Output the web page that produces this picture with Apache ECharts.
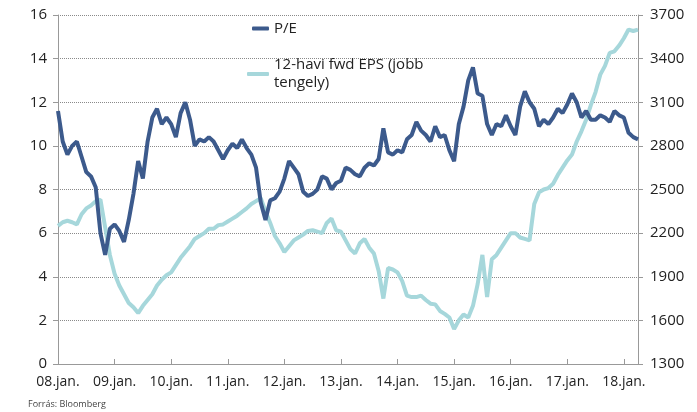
<!DOCTYPE html>
<html>
<head>
<meta charset="utf-8">
<script src="https://cdn.jsdelivr.net/npm/echarts@6/dist/echarts.min.js"></script>
<style>
    html, body { margin: 0; padding: 0; background: #fff; }
    #chart { width: 697px; height: 412px; }
</style>
</head>
<body>
<div id="chart"></div>
<script>
// years and Hungarian month abbreviations -> monthly categories, Jan 2008 .. Apr 2018
const years = ['08', '09', '10', '11', '12', '13', '14', '15', '16', '17', '18'];
const months = ['jan.', 'febr.', 'márc.', 'ápr.', 'máj.', 'jún.', 'júl.', 'aug.', 'szept.', 'okt.', 'nov.', 'dec.'];
const lastYearMonths = 4;

// P/E (left axis), monthly
const pe = [
    11.6, 10.2, 9.6, 10.0, 10.2, 9.5, 8.8, 8.6, 8.1, 6.0, 5.0, 6.2,
    6.4, 6.1, 5.6, 6.6, 7.8, 9.3, 8.5, 10.2, 11.3, 11.7, 11.0, 11.3,
    11.0, 10.4, 11.5, 12.0, 11.2, 10.0, 10.3, 10.2, 10.4, 10.2, 9.8, 9.4,
    9.8, 10.1, 9.9, 10.3, 9.9, 9.6, 9.0, 7.4, 6.6, 7.5, 7.6, 7.9,
    8.5, 9.3, 9.0, 8.7, 7.9, 7.7, 7.8, 8.0, 8.6, 8.5, 8.0, 8.3,
    8.4, 9.0, 8.9, 8.7, 8.6, 9.0, 9.2, 9.1, 9.4, 10.8, 9.7, 9.6,
    9.8, 9.7, 10.3, 10.5, 11.1, 10.7, 10.5, 10.2, 10.9, 10.4, 10.5, 9.8,
    9.3, 11.0, 11.8, 13.0, 13.6, 12.4, 12.3, 11.0, 10.5, 11.0, 10.9, 11.4,
    10.9, 10.5, 11.8, 12.5, 12.0, 11.7, 10.9, 11.2, 11.0, 11.3, 11.7, 11.5,
    11.9, 12.4, 12.0, 11.3, 11.6, 11.2, 11.2, 11.4, 11.3, 11.1, 11.6, 11.4,
    11.3, 10.6, 10.4, 10.3
];

// 12-month forward EPS (right axis), monthly
const eps = [
    2250, 2275, 2285, 2275, 2260, 2330, 2370, 2390, 2420, 2430, 2240, 2050,
    1920, 1840, 1780, 1720, 1690, 1650, 1700, 1740, 1780, 1840, 1880, 1910,
    1930, 1980, 2030, 2070, 2110, 2160, 2180, 2200, 2230, 2230, 2255, 2260,
    2280, 2300, 2320, 2345, 2370, 2400, 2420, 2440, 2350, 2270, 2180, 2130,
    2070, 2110, 2150, 2170, 2190, 2215, 2220, 2210, 2200, 2270, 2300, 2220,
    2210, 2150, 2090, 2060, 2130, 2160, 2100, 2060, 1940, 1750, 1960, 1950,
    1930, 1870, 1770, 1760, 1760, 1770, 1740, 1715, 1710, 1665, 1645, 1620,
    1540, 1600, 1640, 1620, 1700, 1850, 2050, 1760, 2020, 2050, 2100, 2150,
    2200, 2200, 2170, 2160, 2150, 2400, 2480, 2500, 2510, 2540, 2600, 2650,
    2700, 2740, 2830, 2900, 2980, 3080, 3170, 3290, 3350, 3440, 3450, 3490,
    3540, 3600, 3590, 3600
];

const peName = 'P/E';
const epsName = '12-havi fwd EPS (jobb tengely)';

const categories = [];
years.forEach((y, i) => {
    const n = i === years.length - 1 ? lastYearMonths : 12;
    for (let m = 0; m < n; m++) {
        categories.push(y + '.' + months[m]);
    }
});

const font = "'Open Sans', sans-serif";
const isJan = idx => idx % 12 === 0;

const option = {
    animation: false,
    backgroundColor: '#fff',
    title: {
        text: 'Forrás: Bloomberg',
        left: 28,
        top: 400,
        padding: 0,
        textStyle: {
            fontFamily: font,
            fontSize: 9,
            fontWeight: 'normal',
            color: '#444'
        }
    },
    legend: [
        {
            data: [peName],
            left: 252,
            top: 21,
            padding: 0,
            itemWidth: 17,
            itemHeight: 4,
            icon: 'roundRect',
            textStyle: { fontFamily: font, fontSize: 15, color: '#222' }
        },
        {
            data: [epsName],
            left: 247,
            top: 47,
            padding: 0,
            itemWidth: 22,
            itemHeight: 4,
            icon: 'roundRect',
            formatter: () => '12-havi fwd EPS (jobb\ntengely)',
            textStyle: {
                fontFamily: font,
                fontSize: 15,
                lineHeight: 18,
                padding: [18, 0, 0, 0],
                color: '#222'
            }
        }
    ],
    grid: {
        left: 58,
        right: 59,
        top: 15,
        bottom: 48
    },
    xAxis: {
        type: 'category',
        data: categories,
        boundaryGap: false,
        axisLine: { lineStyle: { color: '#999' } },
        axisTick: {
            interval: isJan,
            inside: true,
            length: 5,
            lineStyle: { color: '#999' }
        },
        axisLabel: {
            interval: isJan,
            formatter: v => v.slice(0, 3) + 'jan.',
            fontFamily: font,
            fontSize: 14,
            color: '#222',
            margin: 11
        },
        splitLine: { show: false }
    },
    yAxis: [
        {
            type: 'value',
            position: 'left',
            min: 0,
            max: 16,
            interval: 2,
            axisLine: { show: true, lineStyle: { color: '#999' } },
            axisTick: { show: true, length: 5, lineStyle: { color: '#999' } },
            axisLabel: { fontFamily: font, fontSize: 15, color: '#222', margin: 11 },
            splitLine: { show: true, lineStyle: { color: '#8a8a8a', type: 'dotted', width: 1 } }
        },
        {
            type: 'value',
            position: 'right',
            min: 1300,
            max: 3700,
            alignTicks: true,
            axisLine: { show: true, lineStyle: { color: '#999' } },
            axisTick: { show: true, length: 5, lineStyle: { color: '#999' } },
            axisLabel: {
                formatter: v => String(Math.round(v)),
                fontFamily: font,
                fontSize: 15,
                color: '#222',
                margin: 12
            },
            splitLine: { show: false }
        }
    ],
    series: [
        {
            name: epsName,
            type: 'line',
            yAxisIndex: 1,
            showSymbol: false,
            symbol: 'none',
            itemStyle: { color: '#a6d7db' },
            lineStyle: { color: '#a6d7db', width: 4 },
            data: eps
        },
        {
            name: peName,
            type: 'line',
            yAxisIndex: 0,
            showSymbol: false,
            symbol: 'none',
            itemStyle: { color: '#3c5a8c' },
            lineStyle: { color: '#3c5a8c', width: 4 },
            data: pe
        }
    ]
};

const chart = echarts.init(document.getElementById('chart'));
chart.setOption(option);
</script>
</body>
</html>
